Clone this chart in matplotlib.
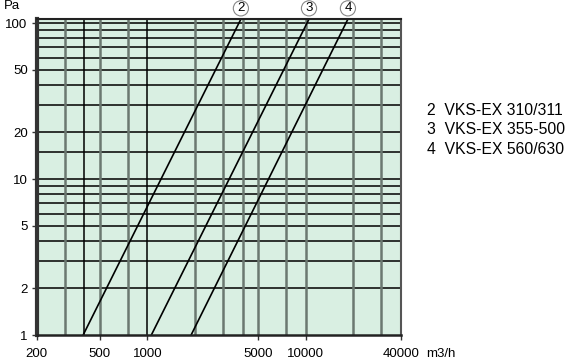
import matplotlib
matplotlib.use("Agg")
import matplotlib.pyplot as plt

plt.rcParams['font.family'] = ['Liberation Sans', 'DejaVu Sans']

# pressure drop lines: flow (m3/h) at 1 Pa and at the top of the chart
dp_ends = [1, 106]
flow_2 = [393, 3900]
flow_3 = [1060, 10500]
flow_4 = [1890, 18500]
line_ids = ['2', '3', '4']
line_names = ['VKS-EX 310/311', 'VKS-EX 355-500', 'VKS-EX 560/630']

x_ticks = [200, 500, 1000, 5000, 10000, 40000]
y_ticks = [1, 2, 5, 10, 20, 50, 100]
h_grid = [3, 4, 6, 7, 8, 9, 15, 30, 40, 60, 70, 80, 90] + [2, 5, 10, 20, 50, 100]
v_grid_dark = [300, 500, 750, 2000, 3000, 4000, 5000, 7500, 10000, 20000, 30000]
v_grid_black = [400, 1000]

fig = plt.figure(figsize=(5.7, 3.6), dpi=100)
ax = fig.add_axes([0.0644, 0.0694, 0.639, 0.8776])
ax.set_xscale('log')
ax.set_yscale('log')
ax.set_xlim(200, 40000)
ax.set_ylim(1, 106)
ax.set_facecolor('#d9efe2')

for v in h_grid:
    ax.axhline(v, color='#111111', lw=1.2, zorder=1)
for v in v_grid_dark:
    ax.axvline(v, color='#6b7870', lw=1.8, zorder=1)
for v in v_grid_black:
    ax.axvline(v, color='#000000', lw=1.1, zorder=1)

for flows, lid in zip([flow_2, flow_3, flow_4], line_ids):
    ax.plot(flows, dp_ends, color='black', lw=1.2, zorder=3, clip_on=True)
    ax.text(flows[1], 1.015, lid, transform=ax.get_xaxis_transform(),
            ha='center', va='bottom', fontsize=9.5,
            bbox=dict(boxstyle='circle,pad=0.12', fc='white', ec='#888888', lw=0.8))

ax.set_xticks(x_ticks)
ax.set_xticklabels([str(v) for v in x_ticks])
ax.set_yticks(y_ticks)
ax.set_yticklabels([str(v) for v in y_ticks])
ax.minorticks_off()
ax.tick_params(axis='both', labelsize=9.5, length=3.5, width=1, color='#333333')
ax.tick_params(axis='x', pad=5.5)
ax.tick_params(axis='y', pad=3)

ax.spines['left'].set_linewidth(3)
ax.spines['left'].set_color('#333333')
ax.spines['bottom'].set_linewidth(1.8)
ax.spines['bottom'].set_color('#222222')
ax.spines['top'].set_linewidth(1.5)
ax.spines['top'].set_color('#222222')
ax.spines['right'].set_linewidth(1.5)
ax.spines['right'].set_color('#555555')
for s in ax.spines.values():
    s.set_zorder(5)

fig.text(4 / 570, 1 - 6 / 360, 'Pa', fontsize=9.5, ha='left', va='center')
fig.text(426 / 570, 1 - 354 / 360, 'm3/h', fontsize=9.5, ha='left', va='center')

for i, (lid, name) in enumerate(zip(line_ids, line_names)):
    fig.text(427 / 570, 1 - (110.7 + i * 19.2) / 360, f'{lid}  {name}',
             fontsize=11.3, ha='left', va='center')

fig.savefig('out.png', dpi=100)
